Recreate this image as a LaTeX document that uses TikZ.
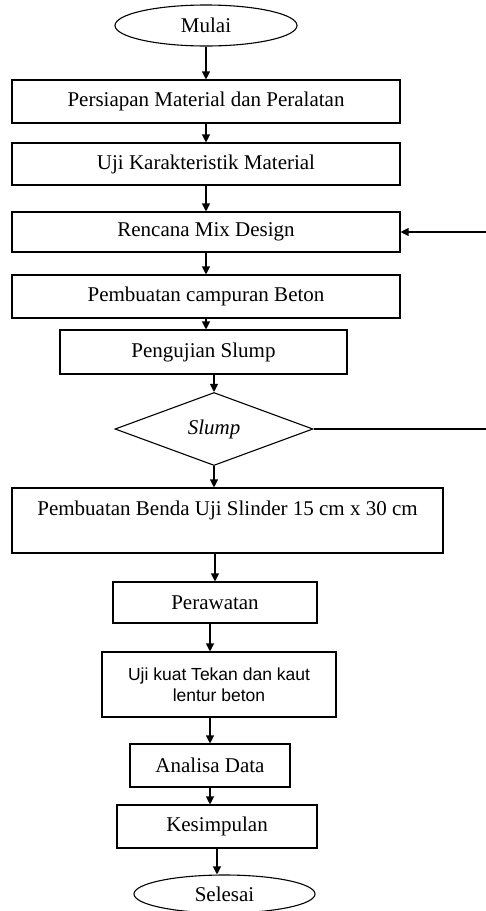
\documentclass[tikz,border=0pt]{standalone}
\usepackage{fontspec}
\setmainfont{Liberation Serif}
\newfontfamily\arialfont{Liberation Sans}
\usetikzlibrary{shapes.geometric,arrows.meta}

\begin{document}
\begin{tikzpicture}[x=1pt,y=1pt,
  box/.style={draw,line width=1.1pt,rectangle,inner sep=0pt,minimum height=43pt,font=\fontsize{21}{25}\selectfont},
  term/.style={draw,line width=1.1pt,ellipse,inner sep=0pt,minimum height=41pt,font=\fontsize{21}{25}\selectfont},
  cek/.style={draw,line width=1.1pt,diamond,inner sep=0pt,font=\fontsize{21}{25}\selectfont\itshape},
  arr/.style={line width=1.1pt,-{Triangle[length=8pt,width=8pt]}}]
\useasboundingbox (0,0) rectangle (485,-911);
\node[term,minimum width=182pt] (mulai) at (206,-25.5) {Mulai};
\node[box,minimum width=388pt] (persiapan) at (206,-101.5) {Persiapan Material dan Peralatan};
\node[box,minimum width=388pt,minimum height=42pt] (uji) at (206,-164) {Uji Karakteristik Material};
\node[box,minimum width=388pt,minimum height=40pt] (rencana) at (206,-232) {Rencana Mix Design};
\node[box,minimum width=388pt] (campuran) at (206,-296.5) {Pembuatan campuran Beton};
\node[box,minimum width=287pt,minimum height=44pt] (pengujian) at (203.5,-352) {Pengujian Slump};
\node[cek,minimum width=198pt,minimum height=73pt] (slump) at (214,-429) {Slump};
\node[box,minimum width=431pt,minimum height=65pt,align=center] (benda) at (227.5,-520.5) {Pembuatan Benda Uji Slinder 15 cm x 30 cm\\ ~};
\node[box,minimum width=204pt,minimum height=41pt] (perawatan) at (215,-602.5) {Perawatan};
\node[box,minimum width=234pt,minimum height=65pt,align=center,font=\arialfont\fontsize{17.5}{21}\selectfont] (ujikuat) at (219,-684.5) {Uji kuat Tekan dan kaut\\lentur beton};
\node[box,minimum width=160pt] (analisa) at (210,-765.5) {Analisa Data};
\node[box,minimum width=200pt] (kesimpulan) at (217,-826.5) {Kesimpulan};
\node[term,minimum width=181pt,minimum height=38pt] (selesai) at (224.5,-894) {Selesai};
\coordinate (balik) at (487,-429);
\draw[arr] (mulai.south) -- (mulai.south |- persiapan.north);
\draw[arr] (persiapan.south) -- (persiapan.south |- uji.north);
\draw[arr] (uji.south) -- (uji.south |- rencana.north);
\draw[arr] (rencana.south) -- (rencana.south |- campuran.north);
\draw[arr] (campuran.south) -- (campuran.south |- pengujian.north);
\draw[arr] (pengujian.south -| slump.north) -- (slump.north);
\draw[arr] (slump.south) -- (slump.south |- benda.north);
\draw[arr] (benda.south -| perawatan.north) -- (perawatan.north);
\draw[arr] (perawatan.south -| analisa.north) -- (ujikuat.north -| analisa.north);
\draw[arr] (ujikuat.south -| analisa.north) -- (analisa.north);
\draw[arr] (analisa.south) -- (analisa.south |- kesimpulan.north);
\draw[arr] (kesimpulan.south) -- (kesimpulan.south |- selesai.north);
\draw[arr] (slump.east) -- (balik) |- (rencana.east);
\end{tikzpicture}
\end{document}
